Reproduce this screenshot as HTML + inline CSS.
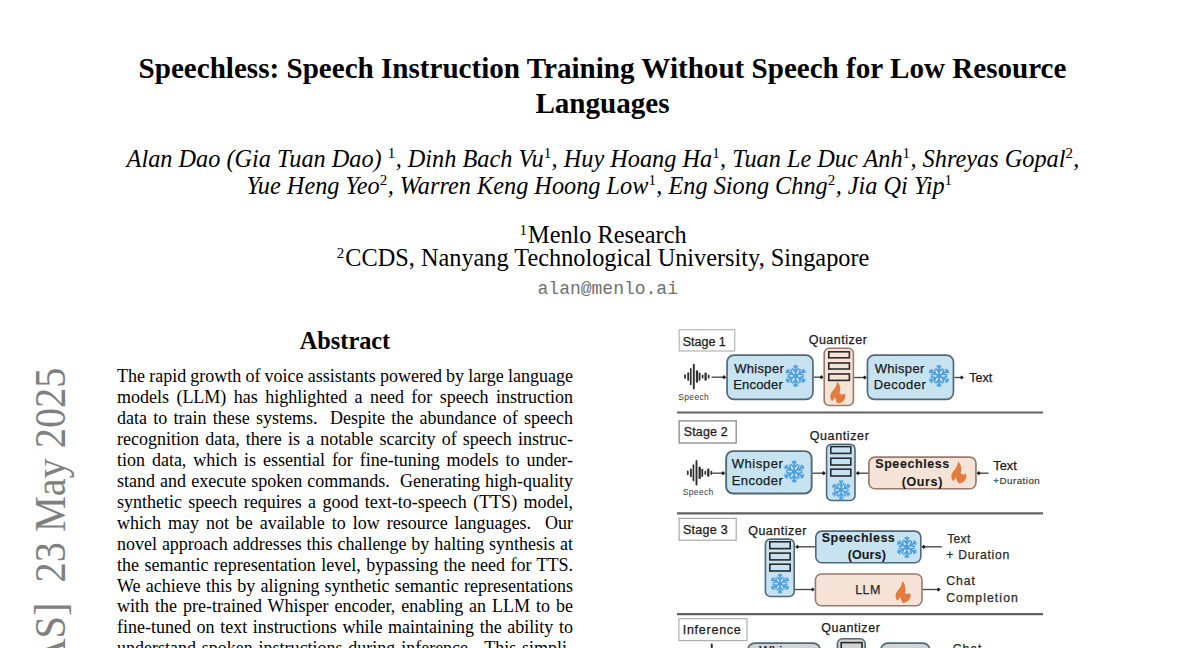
<!DOCTYPE html>
<html><head><meta charset="utf-8">
<style>
html,body{margin:0;padding:0;background:#fff;}
body{width:1200px;height:648px;position:relative;overflow:hidden;font-family:"Liberation Serif",serif;color:#000;}
.c{position:absolute;white-space:nowrap;text-align:center;}
.title{font-weight:bold;font-size:29.1px;line-height:35px;left:0;width:1205px;top:51.2px;}
.auth{font-style:italic;font-size:24.3px;line-height:26.8px;left:0;}
.auth sup,.aff sup{font-size:15px;font-style:normal;vertical-align:0;position:relative;top:-8.5px;line-height:0;margin-right:1.2px;}
.auth sup{margin-right:0.4px;}
.aff{font-size:24.3px;line-height:23px;left:0;width:1206px;top:223px;}
.email{font-family:"Liberation Mono",monospace;font-size:18px;line-height:20px;color:#707070;left:0;width:1215.5px;top:278.6px;}
.abs{font-weight:bold;font-size:24.3px;line-height:24px;left:0;width:690px;top:329px;}
.body{position:absolute;left:117px;top:366.3px;width:456px;font-size:18px;line-height:20.93px;}
.body div{white-space:nowrap;height:20.93px;}
.arx{position:absolute;font-size:40px;color:#808080;white-space:nowrap;transform-origin:0 0;transform:rotate(-90deg);}
svg text{font-family:"Liberation Sans",sans-serif;}
</style></head><body>
<div class="c title">Speechless: Speech Instruction Training Without Speech for Low Resource<br>Languages</div>
<div class="c auth" style="top:145.8px;width:1206px;">Alan Dao (Gia Tuan Dao) <sup>1</sup>, Dinh Bach Vu<sup>1</sup>, Huy Hoang Ha<sup>1</sup>, Tuan Le Duc Anh<sup>1</sup>, Shreyas Gopal<sup>2</sup>,</div>
<div class="c auth" style="top:172.6px;width:1199px;">Yue Heng Yeo<sup>2</sup>, Warren Keng Hoong Low<sup>1</sup>, Eng Siong Chng<sup>2</sup>, Jia Qi Yip<sup>1</sup></div>
<div class="c aff" style="top:223px;"><sup>1</sup>Menlo Research</div>
<div class="c aff" style="top:246px;"><sup>2</sup>CCDS, Nanyang Technological University, Singapore</div>
<div class="c email">alan@menlo.ai</div>
<div class="c abs">Abstract</div>
<div class="body">
<div style="word-spacing:-0.337px">The rapid growth of voice assistants powered by large language</div>
<div style="word-spacing:2.889px">models (LLM) has highlighted a need for speech instruction</div>
<div style="word-spacing:1.764px">data to train these systems. &nbsp;Despite the abundance of speech</div>
<div style="word-spacing:1.686px">recognition data, there is a notable scarcity of speech instruc-</div>
<div style="word-spacing:2.384px">tion data, which is essential for fine-tuning models to under-</div>
<div style="word-spacing:0.589px">stand and execute spoken commands. &nbsp;Generating high-quality</div>
<div style="word-spacing:1.877px">synthetic speech requires a good text-to-speech (TTS) model,</div>
<div style="word-spacing:2.464px">which may not be available to low resource languages. &nbsp;Our</div>
<div style="word-spacing:0.389px">novel approach addresses this challenge by halting synthesis at</div>
<div style="word-spacing:0.932px">the semantic representation level, bypassing the need for TTS.</div>
<div style="word-spacing:0.725px">We achieve this by aligning synthetic semantic representations</div>
<div style="word-spacing:1.467px">with the pre-trained Whisper encoder, enabling an LLM to be</div>
<div style="word-spacing:1.135px">fine-tuned on text instructions while maintaining the ability to</div>
<div style="word-spacing:1.297px">understand spoken instructions during inference. &nbsp;This simpli-</div>
</div>
<div class="arx" style="left:24.3px;top:1113px;font-size:40.3px;transform:rotate(-90deg) scale(1,1.1);">arXiv:2502.14669v3 &nbsp;[eess.AS] &nbsp;23 May 2025</div>
<svg style="position:absolute;left:0;top:0" width="1200" height="648" viewBox="0 0 1200 648">
<defs>
<g id="snow">
<g stroke="#4f9fd9" stroke-width="1.7" stroke-linecap="round" fill="none">
<g id="arm"><path d="M0,0 L0,-10.8"/><path d="M-3.1,-7.3 L0,-4.2 L3.1,-7.3"/><path d="M-1.8,-10 L0,-8.1 L1.8,-10"/></g>
<use href="#arm" transform="rotate(60)"/><use href="#arm" transform="rotate(120)"/><use href="#arm" transform="rotate(180)"/><use href="#arm" transform="rotate(240)"/><use href="#arm" transform="rotate(300)"/>
</g><circle r="2.4" fill="#4f9fd9"/></g>
<path id="fire" fill="#e37b3f" d="M7.3,0.6 C9.5,2.5 11.8,7 9.8,12.2 C10.8,13.6 13,14.2 14.9,12.6 C16.2,15 15.5,19 12.6,20.8 C11,22 9.5,22.4 8.4,22.4 C7.2,22 6.4,20.5 6.1,19 C5.8,18 5.3,17 5,16.3 C4.5,17.8 3.5,19.2 2.4,20.2 C0.8,18.5 0.3,16.5 0.6,14.8 C0.8,12.5 2,10.8 3.5,9.2 C5.5,6.8 7,4.5 7.3,0.6 Z"/>
<g id="wave" fill="#2e2e2e">
<rect x="-0.85" y="-2.25" width="1.7" height="4.5" rx="0.85"/>
<rect x="2.20" y="-4.25" width="1.8" height="8.5" rx="0.90"/>
<rect x="4.80" y="-8.50" width="1.7" height="17" rx="0.85"/>
<rect x="7.75" y="-12.75" width="1.9" height="25.5" rx="0.95"/>
<rect x="10.75" y="-6.25" width="2.3" height="12.5" rx="1.15"/>
<rect x="13.60" y="-4.10" width="1.8" height="8.2" rx="0.90"/>
<rect x="16.65" y="-2.00" width="1.7" height="4" rx="0.85"/>
<rect x="19.35" y="-4.20" width="2.3" height="8.4" rx="1.15"/>
<rect x="22.75" y="-2.00" width="1.7" height="4" rx="0.85"/>
</g>
</defs>
<g font-family="Liberation Sans, sans-serif">
<line x1="677" y1="412.5" x2="1043" y2="412.5" stroke="#626262" stroke-width="2.2"/>
<line x1="677" y1="513.3" x2="1043" y2="513.3" stroke="#626262" stroke-width="2.2"/>
<line x1="677" y1="614.2" x2="1043" y2="614.2" stroke="#626262" stroke-width="2.2"/>
<rect x="679.2" y="329.70000000000005" width="55.49999999999993" height="21.3" fill="#fff" stroke="#b5b5b5" stroke-width="1.2"/>
<rect x="679.1" y="420.90000000000003" width="57.09999999999995" height="22.100000000000012" fill="#fff" stroke="#808080" stroke-width="1.2"/>
<rect x="679.1" y="518.4" width="57.09999999999995" height="21.8" fill="#fff" stroke="#a8a8a8" stroke-width="1.2"/>
<rect x="678.9" y="618.7" width="68.10000000000007" height="21.900000000000023" fill="#fff" stroke="#b0b0b0" stroke-width="1.2"/>
<use href="#wave" transform="translate(685.1,376.6)"/>
<line x1="711.5" y1="377.2" x2="724.2" y2="377.2" stroke="#474747" stroke-width="1.35"/><path d="M726.2,377.2 L724.0,375.09999999999997 L722.2,377.2 L724.0,379.3 Z" fill="#1a1a1a"/>
<rect x="727.0500000000001" y="355.05" width="85.8999999999999" height="44.3" rx="7" fill="#c7e3f2" stroke="#50697a" stroke-width="1.7"/>
<use href="#snow" transform="translate(795.6,375.9) scale(0.97)"/>
<line x1="813.8" y1="377.2" x2="821.6" y2="377.2" stroke="#474747" stroke-width="1.35"/><path d="M823.6,377.2 L821.4,375.09999999999997 L819.6,377.2 L821.4,379.3 Z" fill="#1a1a1a"/>
<rect x="824.1999999999999" y="348.3" width="29.200000000000067" height="57.20000000000001" rx="5" fill="#f5e3d8" stroke="#9a7a6a" stroke-width="1.6"/><rect x="828.8" y="351.8" width="20.600000000000044" height="6.000000000000023" fill="#f5e3d8" stroke="#2a2a2a" stroke-width="1.6"/><rect x="828.8" y="363.0" width="20.600000000000044" height="6.000000000000023" fill="#f5e3d8" stroke="#2a2a2a" stroke-width="1.6"/><rect x="828.8" y="374.0" width="20.600000000000044" height="6.4" fill="#f5e3d8" stroke="#2a2a2a" stroke-width="1.6"/><use href="#fire" transform="translate(829.8,381)"/>
<line x1="854.2" y1="377.5" x2="864.8" y2="377.5" stroke="#474747" stroke-width="1.35"/><path d="M866.8,377.5 L864.5999999999999,375.4 L862.8,377.5 L864.5999999999999,379.6 Z" fill="#1a1a1a"/>
<rect x="867.45" y="355.05" width="85.99999999999993" height="44.3" rx="7" fill="#c7e3f2" stroke="#50697a" stroke-width="1.7"/>
<use href="#snow" transform="translate(939,375.9) scale(0.97)"/>
<line x1="954.3" y1="377.5" x2="961.8" y2="377.5" stroke="#474747" stroke-width="1.35"/><path d="M963.8,377.5 L961.5999999999999,375.4 L959.8,377.5 L961.5999999999999,379.6 Z" fill="#1a1a1a"/>
<use href="#wave" transform="translate(687.8,472.8)"/>
<line x1="712.2" y1="473.2" x2="723.2" y2="473.2" stroke="#474747" stroke-width="1.35"/><path d="M725.2,473.2 L723.0,471.09999999999997 L721.2,473.2 L723.0,475.3 Z" fill="#1a1a1a"/>
<rect x="726.1500000000001" y="451.15" width="85.49999999999997" height="42.40000000000001" rx="7" fill="#c7e3f2" stroke="#50697a" stroke-width="1.9"/>
<use href="#snow" transform="translate(794.2,471.6) scale(0.97)"/>
<line x1="812.6" y1="473.2" x2="823.8" y2="473.2" stroke="#474747" stroke-width="1.35"/><path d="M825.8,473.2 L823.5999999999999,471.09999999999997 L821.8,473.2 L823.5999999999999,475.3 Z" fill="#1a1a1a"/>
<rect x="826.5999999999999" y="444.2" width="28.4" height="56.30000000000003" rx="5" fill="#c7e3f2" stroke="#50697a" stroke-width="1.6"/><rect x="830.8" y="446.6" width="20.00000000000002" height="6.799999999999978" fill="#c7e3f2" stroke="#2a2a2a" stroke-width="1.6"/><rect x="830.8" y="458.2" width="20.00000000000002" height="6.8000000000000345" fill="#c7e3f2" stroke="#2a2a2a" stroke-width="1.6"/><rect x="830.8" y="469.2" width="20.00000000000002" height="6.8000000000000345" fill="#c7e3f2" stroke="#2a2a2a" stroke-width="1.6"/><use href="#snow" transform="translate(841.2,490) scale(0.87)"/>
<line x1="868.2" y1="473.2" x2="857.8" y2="473.2" stroke="#474747" stroke-width="1.35"/><path d="M855.8,473.2 L858.0,471.09999999999997 L859.8,473.2 L858.0,475.3 Z" fill="#1a1a1a"/>
<rect x="868.85" y="457.05" width="107.09999999999995" height="31.700000000000035" rx="6" fill="#f5e3d8" stroke="#9a7a6a" stroke-width="1.7"/>
<use href="#fire" transform="translate(950.8,461)"/>
<line x1="988.5" y1="473.2" x2="978.6" y2="473.2" stroke="#474747" stroke-width="1.35"/><path d="M976.6,473.2 L978.8000000000001,471.09999999999997 L980.6,473.2 L978.8000000000001,475.3 Z" fill="#1a1a1a"/>
<rect x="765.4" y="539.0999999999999" width="28.799999999999976" height="57.4" rx="5" fill="#c7e3f2" stroke="#50697a" stroke-width="1.6"/><rect x="769.8" y="541.8" width="20.4" height="6.799999999999978" fill="#c7e3f2" stroke="#2a2a2a" stroke-width="1.6"/><rect x="769.8" y="553.0999999999999" width="20.4" height="6.800000000000091" fill="#c7e3f2" stroke="#2a2a2a" stroke-width="1.6"/><rect x="769.8" y="564.1999999999999" width="20.4" height="6.799999999999978" fill="#c7e3f2" stroke="#2a2a2a" stroke-width="1.6"/><use href="#snow" transform="translate(780,583.6) scale(0.87)"/>
<line x1="815.2" y1="546.8" x2="797.2" y2="546.8" stroke="#474747" stroke-width="1.35"/><path d="M795.2,546.8 L797.4000000000001,544.6999999999999 L799.2,546.8 L797.4000000000001,548.9 Z" fill="#1a1a1a"/>
<rect x="815.8" y="531.0999999999999" width="105.00000000000003" height="31.600000000000044" rx="6" fill="#c7e3f2" stroke="#50697a" stroke-width="1.6"/>
<use href="#snow" transform="translate(906.8,547.3) scale(0.95)"/>
<line x1="941.8" y1="546.8" x2="923.6" y2="546.8" stroke="#474747" stroke-width="1.35"/><path d="M921.6,546.8 L923.8000000000001,544.6999999999999 L925.6,546.8 L923.8000000000001,548.9 Z" fill="#1a1a1a"/>
<line x1="795" y1="589.5" x2="812.8" y2="589.5" stroke="#474747" stroke-width="1.35"/><path d="M814.8,589.5 L812.5999999999999,587.4 L810.8,589.5 L812.5999999999999,591.6 Z" fill="#1a1a1a"/>
<rect x="815.4" y="574.0" width="106.59999999999994" height="31.799999999999976" rx="6" fill="#f5e3d8" stroke="#9a7a6a" stroke-width="1.6"/>
<use href="#fire" transform="translate(895,580.5)"/>
<line x1="922.8" y1="589.5" x2="938.6" y2="589.5" stroke="#474747" stroke-width="1.35"/><path d="M940.6,589.5 L938.4,587.4 L936.6,589.5 L938.4,591.6 Z" fill="#1a1a1a"/>
<rect x="747.85" y="643.0500000000001" width="72.3" height="46.09999999999995" rx="7" fill="#d3d3d3" stroke="#50697a" stroke-width="1.7"/>
<rect x="837.4" y="638.8" width="27.799999999999976" height="60.4" rx="5" fill="#d3d3d3" stroke="#50697a" stroke-width="1.6"/>
<rect x="841.2" y="642.6" width="20.8" height="8" fill="#d3d3d3" stroke="#2a2a2a" stroke-width="1.6"/>
<rect x="880.85" y="643.0500000000001" width="48.90000000000002" height="46.09999999999995" rx="7" fill="#d3d3d3" stroke="#50697a" stroke-width="1.7"/>
<rect x="710.8" y="643.5" width="1.9" height="8" rx="0.9" fill="#2e2e2e"/>
<text x="682.7" y="345.6" font-size="12.5" textLength="43.1" lengthAdjust="spacing" fill="#1a1a1a" stroke="#1a1a1a" stroke-width="0.25">Stage 1</text>
<text x="683.7" y="435.7" font-size="12.5" textLength="44.1" lengthAdjust="spacing" fill="#1a1a1a" stroke="#1a1a1a" stroke-width="0.25">Stage 2</text>
<text x="682.95" y="533.9" font-size="12.5" textLength="44.85" lengthAdjust="spacing" fill="#1a1a1a" stroke="#1a1a1a" stroke-width="0.25">Stage 3</text>
<text x="682.7" y="633.7" font-size="12.5" textLength="58.1" lengthAdjust="spacing" fill="#1a1a1a" stroke="#1a1a1a" stroke-width="0.25">Inference</text>
<text x="734.2" y="372.6" font-size="13" textLength="49.6" lengthAdjust="spacing" fill="#1a1a1a" stroke="#1a1a1a" stroke-width="0.25">Whisper</text>
<text x="733.2" y="389.0" font-size="13" textLength="49.6" lengthAdjust="spacing" fill="#1a1a1a" stroke="#1a1a1a" stroke-width="0.25">Encoder</text>
<text x="808.7" y="344.3" font-size="12.5" textLength="58.1" lengthAdjust="spacing" fill="#1a1a1a" stroke="#1a1a1a" stroke-width="0.25">Quantizer</text>
<text x="874.7" y="372.6" font-size="13" textLength="49.6" lengthAdjust="spacing" fill="#1a1a1a" stroke="#1a1a1a" stroke-width="0.25">Whisper</text>
<text x="873.7" y="389.0" font-size="13" textLength="52.1" lengthAdjust="spacing" fill="#1a1a1a" stroke="#1a1a1a" stroke-width="0.25">Decoder</text>
<text x="969.2" y="381.7" font-size="12.5" textLength="23.1" lengthAdjust="spacing" fill="#1a1a1a" stroke="#1a1a1a" stroke-width="0.25">Text</text>
<text x="678.2" y="400" font-size="8.5" textLength="30.6" lengthAdjust="spacing" fill="#3a3a3a">Speech</text>
<text x="682.7" y="495" font-size="8.5" textLength="30.6" lengthAdjust="spacing" fill="#3a3a3a">Speech</text>
<text x="731.7" y="467.6" font-size="13" textLength="51.1" lengthAdjust="spacing" fill="#1a1a1a" stroke="#1a1a1a" stroke-width="0.25">Whisper</text>
<text x="731.7" y="484.9" font-size="13" textLength="51.1" lengthAdjust="spacing" fill="#1a1a1a" stroke="#1a1a1a" stroke-width="0.25">Encoder</text>
<text x="809.7" y="439.6" font-size="12.5" textLength="59.1" lengthAdjust="spacing" fill="#1a1a1a" stroke="#1a1a1a" stroke-width="0.25">Quantizer</text>
<text x="875.2" y="468.3" font-size="12.5" font-weight="bold" textLength="74.1" lengthAdjust="spacing" fill="#1a1a1a" stroke="#1a1a1a" stroke-width="0.1">Speechless</text>
<text x="901.7" y="485.8" font-size="12.5" font-weight="bold" textLength="40.6" lengthAdjust="spacing" fill="#1a1a1a" stroke="#1a1a1a" stroke-width="0.1">(Ours)</text>
<text x="993.2" y="470" font-size="12.8" textLength="23.6" lengthAdjust="spacing" fill="#1a1a1a" stroke="#1a1a1a" stroke-width="0.25">Text</text>
<text x="993.2" y="483.9" font-size="9.8" textLength="46.6" lengthAdjust="spacing" fill="#333" stroke="#333" stroke-width="0.15">+Duration</text>
<text x="748.2" y="534.7" font-size="12.5" textLength="58.1" lengthAdjust="spacing" fill="#1a1a1a" stroke="#1a1a1a" stroke-width="0.25">Quantizer</text>
<text x="821.7" y="542.2" font-size="12.5" font-weight="bold" textLength="73.1" lengthAdjust="spacing" fill="#1a1a1a" stroke="#1a1a1a" stroke-width="0.1">Speechless</text>
<text x="847.7" y="559.2" font-size="12.5" font-weight="bold" textLength="38.1" lengthAdjust="spacing" fill="#1a1a1a" stroke="#1a1a1a" stroke-width="0.1">(Ours)</text>
<text x="947.2" y="542.7" font-size="12.2" textLength="23.1" lengthAdjust="spacing" fill="#2a2a2a" stroke="#2a2a2a" stroke-width="0.25">Text</text>
<text x="946.2" y="559.4" font-size="12.2" textLength="63.1" lengthAdjust="spacing" fill="#2a2a2a" stroke="#2a2a2a" stroke-width="0.25">+ Duration</text>
<text x="855.2" y="594" font-size="12.5" textLength="25.1" lengthAdjust="spacing" fill="#2a2a2a" stroke="#2a2a2a" stroke-width="0.25">LLM</text>
<text x="946.2" y="585.4" font-size="12.2" textLength="28.6" lengthAdjust="spacing" fill="#2a2a2a" stroke="#2a2a2a" stroke-width="0.25">Chat</text>
<text x="946.2" y="602.4" font-size="12.2" textLength="71.6" lengthAdjust="spacing" fill="#2a2a2a" stroke="#2a2a2a" stroke-width="0.25">Completion</text>
<text x="821.2" y="632.2" font-size="12.5" textLength="58.6" lengthAdjust="spacing" fill="#1a1a1a" stroke="#1a1a1a" stroke-width="0.25">Quantizer</text>
<text x="952.7" y="653" font-size="12.2" textLength="28.6" lengthAdjust="spacing" fill="#2a2a2a" stroke="#2a2a2a" stroke-width="0.25">Chat</text>
<text x="759.2" y="654.5" font-size="13" textLength="49.6" lengthAdjust="spacing" fill="#1a1a1a" stroke="#1a1a1a" stroke-width="0.25">Whisper</text>
</g></svg>

</body></html>
